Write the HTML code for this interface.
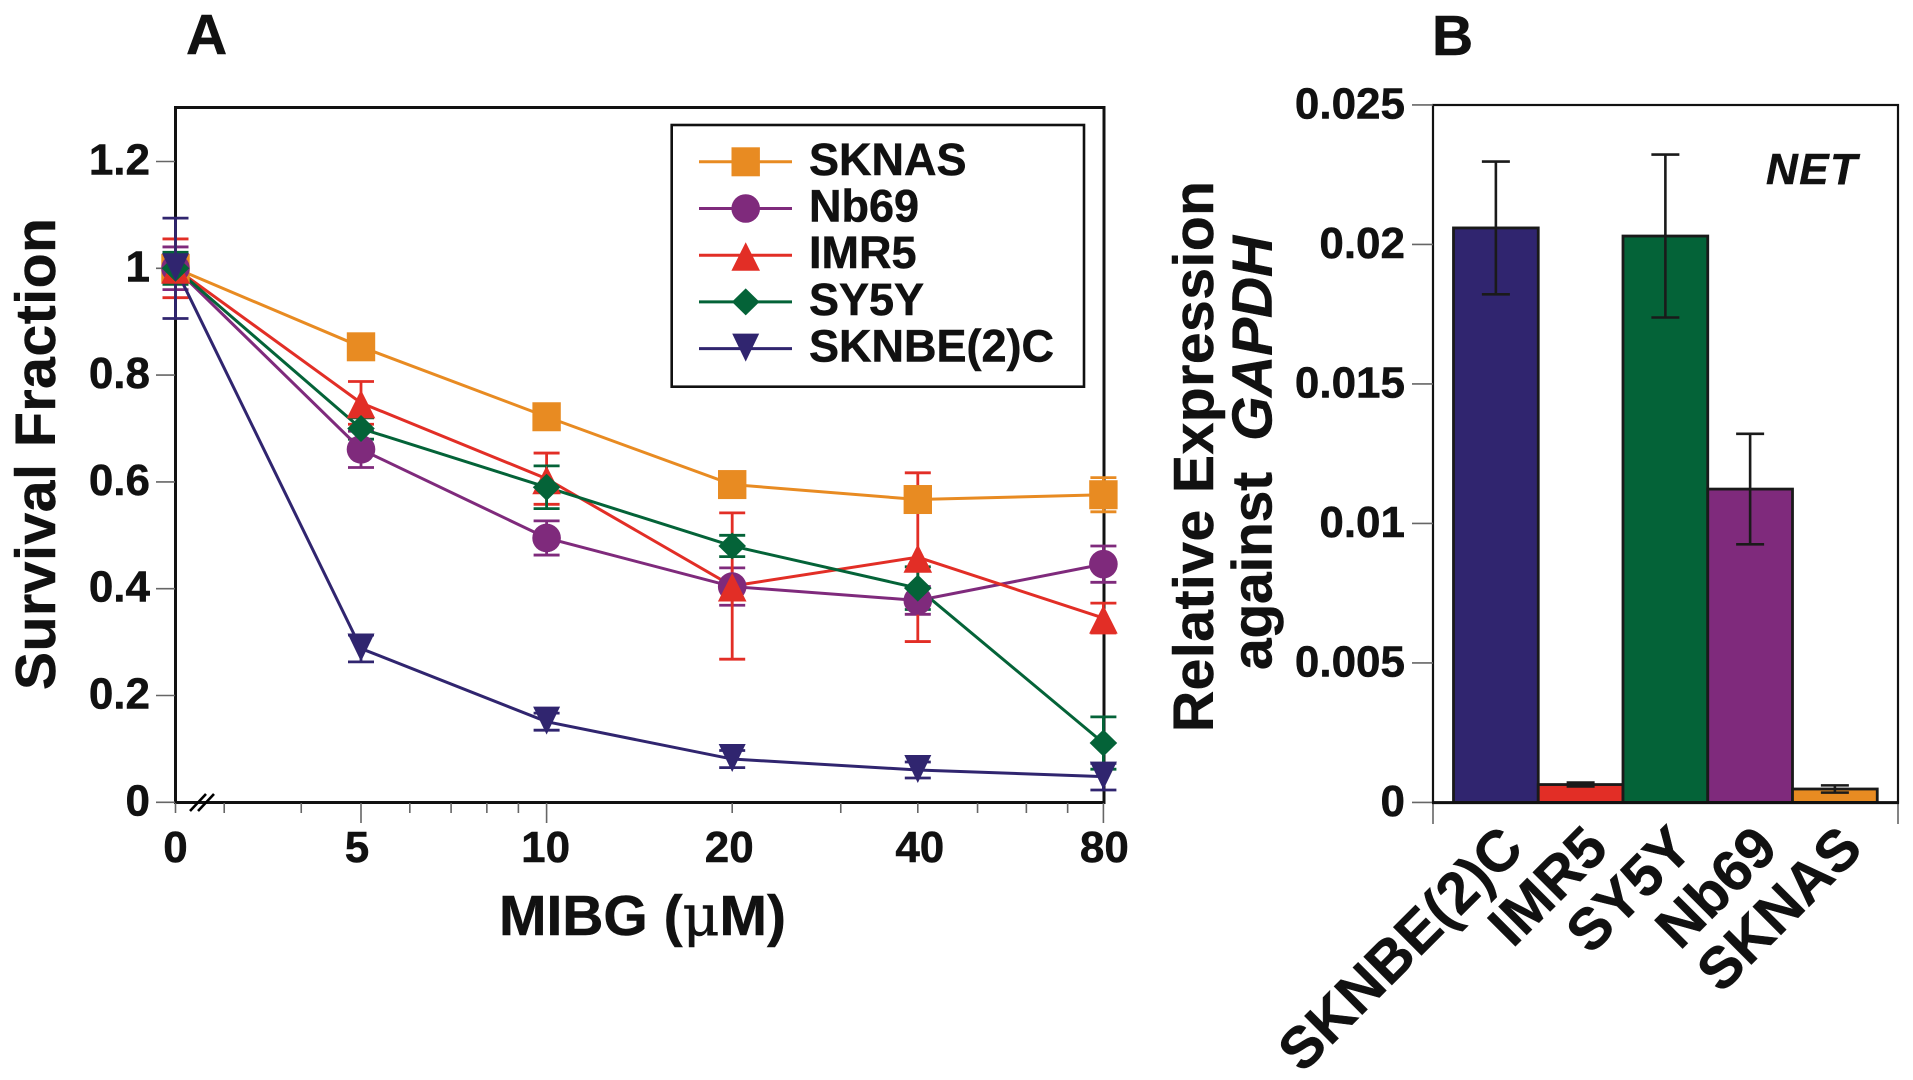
<!DOCTYPE html>
<html lang="en">
<head>
<meta charset="utf-8">
<title>MIBG survival and NET expression</title>
<style>
html,body{margin:0;padding:0;background:#fff;}
svg{display:block;}
text{font-family:"Liberation Sans",Arial,sans-serif;font-weight:bold;fill:#111;stroke:#111;stroke-width:.5px;}
</style>
</head>
<body>
<svg id="figure" xmlns="http://www.w3.org/2000/svg" width="1913" height="1080" viewBox="0 0 1913 1080">
<rect x="0" y="0" width="1913" height="1080" fill="#fff"/>
<text x="186" y="54" font-size="57">A</text>
<text x="1432" y="55" font-size="57">B</text>
<g id="panelA">
<rect x="175.5" y="107.5" width="928.5" height="695" fill="none" stroke="#111" stroke-width="3"/>
<text transform="translate(55,690) rotate(-90)" font-size="57" textLength="472">Survival Fraction</text>
<text x="499" y="935" font-size="57" textLength="287">MIBG (<tspan font-weight="normal" font-family="'DejaVu Serif','Liberation Serif',serif">μ</tspan>M)</text>
<g stroke="#000" stroke-width="2.6">
<line x1="190" y1="811" x2="206" y2="794"/>
<line x1="198" y1="811" x2="214" y2="794"/>
</g>
</g>
<g id="panelB">
<rect x="1433" y="105" width="465" height="697.5" fill="none" stroke="#111" stroke-width="2.2"/>
<text transform="translate(1213,732) rotate(-90)" font-size="57" textLength="551">Relative Expression</text>
<text transform="translate(1271.5,670) rotate(-90)" font-size="57" textLength="434">against&#160;&#160;<tspan font-style="italic">GAPDH</tspan></text>
<text x="1766" y="184" font-size="44" font-style="italic" textLength="91">NET</text>
</g>
</svg>
<script>
// ---------- Panel A data ----------
const concentrations = [0, 5, 10, 20, 40, 80];
const xTickLabels = ['0', '5', '10', '20', '40', '80'];
const longXTicks = [5, 10, 80];
const minorXTicks = [3, 4, 6, 7, 8, 9, 30, 50, 60, 70];
const survivalTicks = [0, 0.2, 0.4, 0.6, 0.8, 1, 1.2];
const survivalTickLabels = ['0', '0.2', '0.4', '0.6', '0.8', '1', '1.2'];
const seriesNames = ['SKNAS', 'Nb69', 'IMR5', 'SY5Y', 'SKNBE(2)C'];
const sknasValues = [1, 0.853, 0.722, 0.595, 0.567, 0.576];
const sknasErrors = [0.02, 0.01, 0.01, 0.01, 0.02, 0.032];
const nb69Values = [1, 0.661, 0.495, 0.404, 0.378, 0.446];
const nb69Errors = [0.04, 0.034, 0.032, 0.035, 0.026, 0.034];
const imr5Values = [1, 0.748, 0.606, 0.405, 0.459, 0.345];
const imr5Errors = [0.055, 0.04, 0.048, 0.137, 0.158, 0.028];
const sy5yValues = [1, 0.7, 0.59, 0.48, 0.401, 0.111];
const sy5yErrors = [0.03, 0.02, 0.04, 0.02, 0.04, 0.049];
const sknbeValues = [1, 0.288, 0.151, 0.081, 0.0605, 0.048];
const sknbeErrors = [0.094, 0.025, 0.016, 0.016, 0.015, 0.025];

// ---------- Panel B data ----------
const barCategories = ['SKNBE(2)C', 'IMR5', 'SY5Y', 'Nb69', 'SKNAS'];
const barValues = [0.02059, 0.00064, 0.0203, 0.01123, 0.00048];
const barErrors = [0.00238, 0.00007, 0.00292, 0.00198, 0.00013];
const expressionTicks = [0, 0.005, 0.01, 0.015, 0.02, 0.025];
const expressionTickLabels = ['0', '0.005', '0.01', '0.015', '0.02', '0.025'];

// ---------- Styling and axis functions ----------
const NS = 'http://www.w3.org/2000/svg';
const ORANGE = '#E88B22', PURPLE = '#7F2A7C', RED = '#E22E26', GREEN = '#046338', NAVY = '#30256F';
const seriesColors = [ORANGE, PURPLE, RED, GREEN, NAVY];
const seriesShapes = ['square', 'circle', 'triangle', 'diamond', 'invtriangle'];
const seriesValues = [sknasValues, nb69Values, imr5Values, sy5yValues, sknbeValues];
const seriesErrors = [sknasErrors, nb69Errors, imr5Errors, sy5yErrors, sknbeErrors];
const barColors = [NAVY, RED, GREEN, PURPLE, ORANGE];
const xLabelNudge = [0, -4, -1, -3, 2, 1];

function survivalY(v) { return 802.3 - 534 * v; }
function concX(c) { return c === 0 ? 175.5 : 361 + 185.6 * Math.log2(c / 5); }
function expressionY(v) { return 802.4 - 27900 * v; }
function barLeft(i) { return 1453.5 + 84.75 * i; }
const BAR_WIDTH = 84.75;

function make(parent, tag, attrs, content) {
  const el = document.createElementNS(NS, tag);
  for (const k in attrs) el.setAttribute(k, attrs[k]);
  if (content !== undefined) el.textContent = content;
  parent.appendChild(el);
  return el;
}

function drawMarker(parent, shape, x, y, color) {
  let el;
  if (shape === 'square') {
    el = make(parent, 'rect', { x: x - 14.2, y: y - 14.5, width: 28.4, height: 29, fill: color });
  } else if (shape === 'circle') {
    el = make(parent, 'circle', { cx: x, cy: y, r: 14.3, fill: color });
  } else if (shape === 'triangle') {
    el = make(parent, 'polygon', { points: (x) + ',' + (y - 13) + ' ' + (x + 14.3) + ',' + (y + 15.5) + ' ' + (x - 14.3) + ',' + (y + 15.5), fill: color });
  } else if (shape === 'diamond') {
    el = make(parent, 'polygon', { points: x + ',' + (y - 13.5) + ' ' + (x + 13.8) + ',' + y + ' ' + x + ',' + (y + 13.5) + ' ' + (x - 13.8) + ',' + y, fill: color });
  } else {
    el = make(parent, 'polygon', { points: (x - 13.5) + ',' + (y - 15) + ' ' + (x + 13.5) + ',' + (y - 15) + ' ' + x + ',' + (y + 13), fill: color });
  }
  return el;
}

// ---------- Panel A drawing ----------
const panelA = document.getElementById('panelA');

survivalTicks.forEach(function (t, i) {
  const y = survivalY(t);
  const tick = make(panelA, 'line', { x1: 156, x2: 175, y1: y, y2: y, stroke: '#666', 'stroke-width': 1.6 });
  
  
  const label = make(panelA, 'text', { x: 150, y: y + 13, 'font-size': 44, 'text-anchor': 'end' }, survivalTickLabels[i]);
  
  
});

concentrations.forEach(function (c, i) {
  const x = concX(c);
  const isLong = longXTicks.indexOf(c) >= 0;
  const tick = make(panelA, 'line', { x1: x, x2: x, y1: 803, y2: isLong ? 823 : 813, stroke: '#666', 'stroke-width': 1.6 });
  
  
  const label = make(panelA, 'text', { x: x + xLabelNudge[i], y: 862, 'font-size': 44, 'text-anchor': 'middle' }, xTickLabels[i]);
  
  
});

minorXTicks.forEach(function (c) {
  const x = concX(c);
  const tick = make(panelA, 'line', { x1: x, x2: x, y1: 803, y2: 813, stroke: '#666', 'stroke-width': 1.6 });
  
  
});

// error bars first, then lines, then markers
seriesNames.forEach(function (name, s) {
  const group = make(panelA, 'g', { stroke: seriesColors[s], 'stroke-width': 2.8 });
  
  
  concentrations.forEach(function (c, i) {
    const x = concX(c);
    const top = survivalY(seriesValues[s][i] + seriesErrors[s][i]);
    const bottom = survivalY(seriesValues[s][i] - seriesErrors[s][i]);
    const stem = make(group, 'line', { x1: x, x2: x, y1: top, y2: bottom });
    
    
    const capTop = make(group, 'line', { x1: x - 13, x2: x + 13, y1: top, y2: top });
    
    
    const capBottom = make(group, 'line', { x1: x - 13, x2: x + 13, y1: bottom, y2: bottom });
    
    
  });
});

seriesNames.forEach(function (name, s) {
  const pts = concentrations.map(function (c, i) { return concX(c) + ',' + survivalY(seriesValues[s][i]); }).join(' ');
  const line = make(panelA, 'polyline', { points: pts, fill: 'none', stroke: seriesColors[s], 'stroke-width': 3 });
  
  
});

seriesNames.forEach(function (name, s) {
  concentrations.forEach(function (c, i) {
    const m = drawMarker(panelA, seriesShapes[s], concX(c), survivalY(seriesValues[s][i]), seriesColors[s]);
    
    
  });
});

// legend
const legend = make(panelA, 'g', {});


const legendBox = make(legend, 'rect', { x: 671.7, y: 125, width: 412.3, height: 261.7, fill: '#fff', stroke: '#111', 'stroke-width': 2.6 });


seriesNames.forEach(function (name, s) {
  const y = 161.8 + 46.7 * s;
  const ln = make(legend, 'line', { x1: 699, x2: 792, y1: y, y2: y, stroke: seriesColors[s], 'stroke-width': 3 });
  
  
  const mk = drawMarker(legend, seriesShapes[s], 745.7, y, seriesColors[s]);
  
  
  const tx = make(legend, 'text', { x: 809, y: y + 13, 'font-size': 45 }, name);
  
  
});

// ---------- Panel B drawing ----------
const panelB = document.getElementById('panelB');

expressionTicks.forEach(function (t, i) {
  const y = expressionY(t);
  const tick = make(panelB, 'line', { x1: 1412, x2: 1433, y1: y, y2: y, stroke: '#666', 'stroke-width': 1.6 });
  
  
  const label = make(panelB, 'text', { x: 1405, y: y + 13.5, 'font-size': 44, 'text-anchor': 'end' }, expressionTickLabels[i]);
  
  
});

[1433, 1898].forEach(function (x) {
  const tick = make(panelB, 'line', { x1: x, x2: x, y1: 803, y2: 824, stroke: '#666', 'stroke-width': 1.6 });
  
  
});

barCategories.forEach(function (name, i) {
  const x = barLeft(i);
  const top = expressionY(barValues[i]);
  const bar = make(panelB, 'rect', { x: x, y: top, width: BAR_WIDTH, height: expressionY(0) - top, fill: barColors[i], stroke: '#1a1a1a', 'stroke-width': 2.8 });
  
  
});

const expressionBaseline = make(panelB, 'line', { x1: 1432, x2: 1899, y1: 802.6, y2: 802.6, stroke: '#111', 'stroke-width': 3 });



barCategories.forEach(function (name, i) {
  const x = barLeft(i) + BAR_WIDTH / 2;
  const top = expressionY(barValues[i] + barErrors[i]);
  const bottom = expressionY(barValues[i] - barErrors[i]);
  const group = make(panelB, 'g', { stroke: '#1a1a1a', 'stroke-width': 2.6 });
  
  
  const stem = make(group, 'line', { x1: x, x2: x, y1: top, y2: bottom });
  
  
  const capTop = make(group, 'line', { x1: x - 14, x2: x + 14, y1: top, y2: top });
  
  
  const capBottom = make(group, 'line', { x1: x - 14, x2: x + 14, y1: bottom, y2: bottom });
  
  
  const lx = x + 30;
  const label = make(panelB, 'text', { transform: 'translate(' + lx + ',851) rotate(-45)', 'font-size': 58, 'text-anchor': 'end' }, name);
  
  
});
</script>
</body>
</html>
